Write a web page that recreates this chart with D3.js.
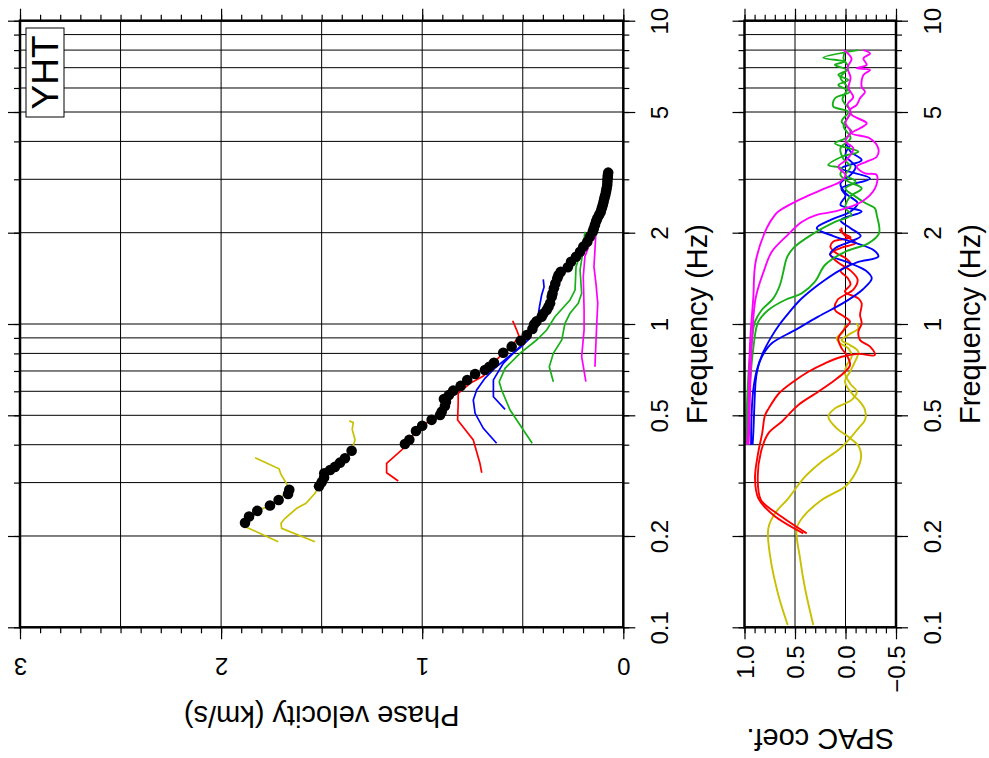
<!DOCTYPE html>
<html>
<head>
<meta charset="utf-8">
<script src="https://cdn.jsdelivr.net/npm/d3@7"></script>
<style>
  body { margin: 0; background: #fff; }
  svg { font-family: "Liberation Sans", Arial, sans-serif; }
  .tick line { stroke: #000; stroke-width: 1.2; }
</style>
</head>
<body>
<div id="main"></div>
<script>
var width = 989;
var height = 758;

// dispersion curve (black dots): frequency (Hz), phase velocity (km/s)
var dispFreq = [0.221, 0.232, 0.242, 0.252, 0.263, 0.275, 0.284,
  0.292, 0.301, 0.312, 0.322, 0.330, 0.338, 0.349, 0.361, 0.382,
  0.402, 0.415, 0.444, 0.462, 0.483, 0.501, 0.514, 0.537, 0.554, 0.566, 0.583, 0.603,
  0.625, 0.654, 0.684, 0.705, 0.723, 0.745, 0.804, 0.842, 0.881, 0.920, 0.963, 0.998,
  1.02, 1.057, 1.08, 1.112, 1.14, 1.170, 1.230, 1.26, 1.311, 1.36, 1.415, 1.45, 1.487,
  1.538, 1.605, 1.667, 1.731, 1.799, 1.868, 1.941, 2.015, 2.06, 2.121, 2.18, 2.231,
  2.29, 2.346, 2.41, 2.469, 2.53, 2.597, 2.66, 2.731, 2.80, 2.872, 2.95, 3.022, 3.09, 3.155];
var dispVel = [1.881, 1.861, 1.820, 1.757, 1.714, 1.667, 1.661,
  1.513, 1.500, 1.488, 1.487, 1.458, 1.434, 1.409, 1.384, 1.351,
  1.086, 1.064, 1.031, 1.000, 0.953, 0.911, 0.903, 0.887, 0.882, 0.892, 0.867, 0.846,
  0.809, 0.776, 0.737, 0.688, 0.666, 0.643, 0.597, 0.555, 0.510, 0.480, 0.452, 0.443,
  0.432, 0.406, 0.398, 0.381, 0.372, 0.364, 0.356, 0.352, 0.345, 0.338, 0.328, 0.322, 0.311,
  0.276, 0.260, 0.235, 0.215, 0.199, 0.179, 0.166, 0.152, 0.147, 0.141, 0.135, 0.129,
  0.120, 0.112, 0.107, 0.102, 0.098, 0.094, 0.090, 0.086, 0.083, 0.080, 0.079, 0.078, 0.077, 0.075];

// phase velocity from each SPAC curve: [frequency, velocity]
var velYellowA = [[0.362, 1.831], [0.333, 1.712], [0.319, 1.702], [0.287, 1.661], [0.262, 1.714],
  [0.252, 1.758], [0.242, 1.820], [0.233, 1.861], [0.221, 1.885], [0.2136, 1.873], [0.1915, 1.716]];
var velYellowB = [[0.480, 1.363], [0.473, 1.343], [0.449, 1.348], [0.415, 1.334], [0.382, 1.351],
  [0.361, 1.384], [0.338, 1.434], [0.322, 1.487], [0.301, 1.500], [0.292, 1.513], [0.2765, 1.533],
  [0.2563, 1.578], [0.2468, 1.624], [0.2288, 1.682], [0.2203, 1.702], [0.2120, 1.699], [0.1915, 1.533]];
var velRedA = [[0.3037, 1.119], [0.3233, 1.177], [0.3473, 1.177], [0.387, 1.097], [0.402, 1.086],
  [0.415, 1.064], [0.444, 1.031], [0.462, 1.000], [0.483, 0.953], [0.501, 0.911], [0.537, 0.887],
  [0.583, 0.867], [0.603, 0.846]];
var velRedB = [[0.3233, 0.704], [0.3473, 0.713], [0.4146, 0.746], [0.4827, 0.824], [0.5478, 0.821],
  [0.5907, 0.821], [0.6372, 0.762], [0.674, 0.696], [0.745, 0.643], [0.804, 0.597], [0.842, 0.555],
  [0.913, 0.519], [0.955, 0.530], [1.025, 0.550]];
var velBlueA = [[0.4043, 0.630], [0.4530, 0.696], [0.5077, 0.737], [0.5617, 0.746], [0.6059, 0.729],
  [0.6622, 0.688], [0.716, 0.638], [0.778, 0.573], [0.834, 0.514], [0.899, 0.464]];
var velBlueB = [[0.5233, 0.588], [0.5758, 0.646], [0.654, 0.646], [0.742, 0.597], [0.842, 0.514],
  [1.005, 0.417], [1.063, 0.424], [1.138, 0.417], [1.246, 0.406], [1.324, 0.394], [1.404, 0.398]];
var velGreenA = [[0.4043, 0.453], [0.4472, 0.497], [0.5205, 0.563], [0.6059, 0.605], [0.6453, 0.617],
  [0.7143, 0.588], [0.8007, 0.514], [0.8856, 0.431], [0.955, 0.381], [1.057, 0.340], [1.200, 0.265],
  [1.294, 0.240], [1.545, 0.235], [1.626, 0.224]];
var velGreenB = [[0.6453, 0.348], [0.7232, 0.368], [0.8007, 0.348], [0.8856, 0.306], [1.005, 0.290],
  [1.085, 0.265], [1.170, 0.224], [1.262, 0.207], [1.507, 0.215], [1.711, 0.202], [2.015, 0.191]];
var velMagentaA = [[0.6453, 0.186], [0.78, 0.207], [0.955, 0.195], [1.112, 0.195], [1.432, 0.199],
  [1.667, 0.191], [1.845, 0.166], [2.015, 0.146]];
var velMagentaB = [[0.7232, 0.141], [1.005, 0.132], [1.170, 0.127], [1.362, 0.136], [1.545, 0.146],
  [1.754, 0.141], [2.015, 0.136]];

// SPAC coefficients: [frequency, coefficient]
var spacYellowA = [[0.1018, 0.572], [0.1278, 0.665], [0.1732, 0.748], [0.212, 0.764], [0.2376, 0.698],
  [0.2663, 0.566], [0.3137, 0.401], [0.3516, 0.236], [0.3842, 0.071], [0.4199, -0.045], [0.453, -0.127],
  [0.4827, -0.193], [0.521, -0.193], [0.554, -0.144], [0.583, -0.077], [0.645, 0.005], [0.696, -0.045],
  [0.751, -0.094], [0.81, -0.127], [0.852, -0.045], [0.885, 0.038], [0.92, -0.028], [0.968, -0.127],
  [1.005, -0.111]];
var spacYellowB = [[0.1018, 0.319], [0.1345, 0.401], [0.1689, 0.450], [0.212, 0.483], [0.2316, 0.418],
  [0.2629, 0.236], [0.2908, 0.005], [0.3137, -0.077], [0.3607, -0.153], [0.394, -0.134], [0.425, -0.028],
  [0.453, 0.087], [0.495, 0.170], [0.527, 0.104], [0.562, -0.061], [0.598, -0.111], [0.637, -0.045],
  [0.688, 0.005], [0.732, -0.012], [0.78, -0.061], [0.831, -0.028], [0.864, 0.054], [0.897, 0.087],
  [0.943, 0.022], [0.992, 0.005]];
var spacRedA = [[0.204, 0.418], [0.2346, 0.715], [0.2663, 0.863], [0.310, 0.896], [0.379, 0.863],
  [0.436, 0.825], [0.5, 0.797], [0.527, 0.76], [0.59, 0.66], [0.645, 0.517], [0.696, 0.368],
  [0.742, 0.203], [0.78, 0.038], [0.797, -0.127], [0.79, -0.29], [0.842, -0.243], [0.885, -0.144],
  [0.943, -0.127], [1.005, -0.16], [1.07, -0.144], [1.17, -0.16], [1.215, -0.127], [1.278, 0.005],
  [1.35, -0.05], [1.42, -0.02], [1.5, 0.05], [1.58, -0.05], [1.65, 0.0], [1.72, 0.1], [1.8, 0.15],
  [1.87, 0.12], [1.93, -0.05], [2.0, 0.03], [2.08, 0.04]];
var spacRedB = [[0.204, 0.384], [0.2376, 0.681], [0.2629, 0.837], [0.310, 0.869], [0.379, 0.837],
  [0.436, 0.764], [0.476, 0.632], [0.5, 0.57], [0.541, 0.467], [0.598, 0.27], [0.654, 0.104],
  [0.696, 0.005], [0.732, -0.045], [0.79, -0.012], [0.831, 0.038], [0.897, 0.071], [0.968, 0.005],
  [1.018, -0.045], [1.07, 0.038], [1.112, 0.104], [1.2, 0.08], [1.3, -0.08], [1.4, -0.12],
  [1.5, -0.05], [1.6, 0.08], [1.7, 0.15], [1.78, 0.05], [1.85, -0.1], [1.95, 0.0], [2.05, 0.06]];
var spacBlueA = [[0.4, 0.92], [0.436, 0.913], [0.645, 0.89], [0.7, 0.875], [0.75, 0.85], [0.8, 0.81],
  [0.864, 0.73], [0.955, 0.5], [1.057, 0.27], [1.185, 0.0], [1.30, -0.17], [1.415, -0.26], [1.5, -0.2],
  [1.6, -0.02], [1.69, 0.153], [1.78, 0.1], [1.87, -0.05], [1.95, -0.15], [2.07, -0.05], [2.2, 0.05],
  [2.35, -0.16], [2.47, 0.05], [2.65, 0.0], [2.8, 0.04], [3.02, -0.243], [3.26, 0.04], [3.47, -0.16],
  [3.7, -0.05], [3.99, 0.0]];
var spacBlueB = [[0.4, 0.935], [0.5, 0.93], [0.6, 0.915], [0.7, 0.88], [0.8, 0.82], [0.9, 0.74],
  [1.0, 0.65], [1.1, 0.55], [1.2, 0.45], [1.3, 0.33], [1.4, 0.2], [1.5, 0.06], [1.6, -0.12],
  [1.667, -0.325], [1.75, -0.28], [1.85, -0.1], [1.95, 0.12], [2.07, 0.285], [2.2, 0.15], [2.35, -0.05],
  [2.5, -0.12], [2.7, 0.0], [2.9, 0.05], [3.1, -0.05], [3.3, -0.1], [3.6, 0.0], [3.9, -0.05]];
var spacGreenA = [[0.4, 0.99], [0.732, 0.955], [0.874, 0.929], [1.018, 0.896], [1.112, 0.83],
  [1.215, 0.715], [1.345, 0.649], [1.49, 0.615], [1.65, 0.582], [1.78, 0.517], [1.97, 0.335],
  [2.17, 0.104], [2.29, -0.06], [2.41, 0.0], [2.63, -0.045], [2.8, -0.16], [2.95, -0.028], [3.1, 0.05],
  [3.26, 0.038], [3.34, 0.17], [3.56, 0.038], [3.70, -0.127], [3.94, 0.104], [4.1, 0.0], [4.31, -0.061],
  [4.65, 0.038], [5.01, -0.028], [5.21, 0.121], [5.55, 0.104], [5.83, -0.045], [6.14, 0.071],
  [6.37, -0.028], [6.62, 0.071], [6.88, -0.012], [7.15, 0.104], [7.33, 0.005], [7.55, 0.22], [8.0, -0.127]];
var spacGreenB = [[0.4, 0.985], [0.831, 0.913], [1.018, 0.863], [1.112, 0.764], [1.2, 0.599],
  [1.262, 0.434], [1.379, 0.302], [1.565, 0.203], [1.73, 0.005], [1.845, -0.226], [1.99, -0.332],
  [2.29, -0.309], [2.41, -0.29], [2.5, -0.2], [2.63, -0.1], [2.8, 0.0], [2.95, -0.1], [3.1, 0.0],
  [3.3, -0.05], [3.5, 0.02], [3.8, 0.05], [4.1, -0.05], [4.5, 0.02], [5.0, -0.05], [5.5, 0.03],
  [6.0, -0.02], [6.5, 0.05], [7.0, -0.03], [7.5, 0.02], [8.0, 0.0]];
var spacMagentaA = [[0.4, 0.975], [0.436, 0.966], [0.85, 0.946], [1.22, 0.913], [1.60, 0.89],
  [2.07, 0.78], [2.29, 0.698], [2.35, 0.665], [2.59, 0.434], [2.80, 0.203], [2.95, 0.05], [3.1, 0.0],
  [3.3, 0.071], [3.5, -0.02], [3.8, -0.077], [4.0, 0.0], [4.3, -0.05], [4.6, 0.0], [5.0, -0.05],
  [5.3, -0.02], [5.6, -0.077], [6.0, -0.03], [6.5, -0.05], [7.0, -0.02], [7.5, -0.06], [8.0, 0.02]];
var spacMagentaB = [[0.4, 0.96], [0.436, 0.955], [0.83, 0.93], [1.215, 0.89], [1.49, 0.81],
  [1.73, 0.73], [1.97, 0.57], [2.17, 0.434], [2.29, 0.285], [2.35, 0.104], [2.53, -0.16],
  [2.80, -0.292], [3.10, -0.309], [3.14, -0.193], [3.30, -0.111], [3.43, -0.21], [3.56, -0.309],
  [3.79, -0.325], [4.09, -0.243], [4.25, -0.061], [4.42, -0.144], [4.59, -0.21], [4.89, -0.061],
  [5.08, -0.045], [5.28, -0.111], [5.55, -0.144], [5.83, -0.193], [6.06, -0.16], [6.62, -0.177],
  [6.88, -0.243], [6.97, -0.111], [7.15, -0.21], [7.51, -0.177], [7.80, -0.243], [8.0, -0.177]];

var gridFreq = [0.2, 0.3, 0.4, 0.5, 0.6, 0.7, 0.8, 0.9, 1, 2, 3, 4, 5, 6, 7, 8, 9];
var minorFreq = [0.1].concat(gridFreq, [10]);
var majorFreq = [0.1, 0.2, 0.5, 1, 2, 5, 10];
var freqLabels = ['0.1', '0.2', '0.5', '1', '2', '5', '10'];
var velTicks = d3.range(0, 31).map(function(d) { return d / 10; });
var velMajor = [0, 1, 2, 3];
var velGrid = [0.5, 1, 1.5, 2, 2.5];
var spacTicks = d3.range(-5, 11).map(function(d) { return d / 10; });
var spacMajor = [1.0, 0.5, 0.0, -0.5];
var spacLabels = ['1.0', '0.5', '0.0', '\u22120.5'];
var spacGrid = [0.5, 0.0];

var colors = {yellow: '#c8c000', red: '#ff0000', blue: '#0000ff', green: '#18b018', magenta: '#ff00ff'};

var frame = {t: 20.7, b: 627.3};
var left = {l: 20, r: 623.3};
var right = {l: 744.5, r: 896};

var svg = d3.select('#main').append('svg')
  .attr('width', width)
  .attr('height', height);

var yScale = d3.scaleLog().domain([0.1, 10]).range([frame.b, frame.t]);
var vScale = d3.scaleLinear().domain([3, 0]).range([left.l, left.r]);
var sScale = d3.scaleLinear().domain([1, -0.5]).range([right.l, right.r]);

var defs = svg.append('defs');
defs.append('clipPath').attr('id', 'clipL').append('rect')
  .attr('x', left.l).attr('y', frame.t).attr('width', left.r - left.l).attr('height', frame.b - frame.t);
defs.append('clipPath').attr('id', 'clipR').append('rect')
  .attr('x', right.l).attr('y', frame.t).attr('width', right.r - right.l).attr('height', frame.b - frame.t);

function noLabels(g) { g.selectAll('text').remove(); g.select('.domain').remove(); }

function drawPanel(xScale, box, xTicks, xMajor, xGrid, clipId) {
  var panel = svg.append('g');

  // grid
  panel.append('g').selectAll('line.hg')
    .data(gridFreq).enter().append('line')
    .attr('x1', box.l).attr('x2', box.r)
    .attr('y1', function(d) { return yScale(d); })
    .attr('y2', function(d) { return yScale(d); })
    .attr('stroke', '#000').attr('stroke-width', 1);
  panel.append('g').selectAll('line.vg')
    .data(xGrid).enter().append('line')
    .attr('x1', function(d) { return xScale(d); })
    .attr('x2', function(d) { return xScale(d); })
    .attr('y1', frame.t).attr('y2', frame.b)
    .attr('stroke', '#000').attr('stroke-width', 1);

  // ticks on all four sides
  panel.append('g').attr('transform', 'translate(0,' + frame.t + ')')
    .call(d3.axisTop(xScale).tickValues(xTicks).tickSize(6)).call(noLabels);
  panel.append('g').attr('transform', 'translate(0,' + frame.t + ')')
    .call(d3.axisTop(xScale).tickValues(xMajor).tickSize(12)).call(noLabels);
  panel.append('g').attr('transform', 'translate(0,' + frame.b + ')')
    .call(d3.axisBottom(xScale).tickValues(xTicks).tickSize(6)).call(noLabels);
  panel.append('g').attr('transform', 'translate(' + box.l + ',0)')
    .call(d3.axisLeft(yScale).tickValues(minorFreq).tickSize(6)).call(noLabels);
  panel.append('g').attr('transform', 'translate(' + box.l + ',0)')
    .call(d3.axisLeft(yScale).tickValues(majorFreq).tickSize(12)).call(noLabels);
  panel.append('g').attr('transform', 'translate(' + box.r + ',0)')
    .call(d3.axisRight(yScale).tickValues(minorFreq).tickSize(6)).call(noLabels);

  var fAxis = panel.append('g').attr('transform', 'translate(' + box.r + ',0)')
    .call(d3.axisRight(yScale).tickValues(majorFreq).tickSize(12)
      .tickFormat(function(d, i) { return freqLabels[i]; }));
  fAxis.select('.domain').remove();
  fAxis.selectAll('text')
    .attr('x', null).attr('dy', null)
    .attr('fill', '#000')
    .attr('font-size', 24)
    .attr('text-anchor', 'middle')
    .attr('transform', 'translate(44.5,0) rotate(-90)');

  panel.append('text')
    .attr('transform', 'translate(' + (box.r + 84) + ',' + ((frame.t + frame.b) / 2) + ') rotate(-90)')
    .attr('text-anchor', 'middle')
    .attr('font-size', 29)
    .text('Frequency (Hz)');

  var data = panel.append('g').attr('clip-path', 'url(#' + clipId + ')');
  return {panel: panel, data: data};
}

// ---- left panel: phase velocity
var L = drawPanel(vScale, left, velTicks, velMajor, velGrid, 'clipL');

var vAxis = L.panel.append('g').attr('transform', 'translate(0,' + frame.b + ')')
  .call(d3.axisBottom(vScale).tickValues(velMajor).tickSize(12).tickFormat(d3.format('d')));
vAxis.select('.domain').remove();
vAxis.selectAll('text')
  .attr('y', null).attr('dy', null)
  .attr('fill', '#000')
  .attr('font-size', 24)
  .attr('text-anchor', 'middle')
  .attr('transform', 'translate(0,31) rotate(180)');

L.panel.append('text')
  .attr('transform', 'translate(' + ((left.l + left.r) / 2) + ',706) rotate(180)')
  .attr('text-anchor', 'middle')
  .attr('font-size', 29)
  .text('Phase velocity (km/s)');

var velLine = d3.line()
  .x(function(d) { return vScale(d[1]); })
  .y(function(d) { return yScale(d[0]); });

var velSeries = [
  {data: velYellowA, color: colors.yellow}, {data: velYellowB, color: colors.yellow},
  {data: velRedA, color: colors.red}, {data: velRedB, color: colors.red},
  {data: velBlueA, color: colors.blue}, {data: velBlueB, color: colors.blue},
  {data: velGreenA, color: colors.green}, {data: velGreenB, color: colors.green},
  {data: velMagentaA, color: colors.magenta}, {data: velMagentaB, color: colors.magenta}
];

L.data.selectAll('path.vel')
  .data(velSeries).enter().append('path')
  .attr('class', 'vel')
  .attr('d', function(d) { return velLine(d.data); })
  .attr('fill', 'none')
  .attr('stroke', function(d) { return d.color; })
  .attr('stroke-width', 1.7);

L.data.selectAll('circle.dot')
  .data(dispFreq).enter().append('circle')
  .attr('class', 'dot')
  .attr('cx', function(d, i) { return vScale(dispVel[i]); })
  .attr('cy', function(d) { return yScale(d); })
  .attr('r', 5.3)
  .attr('fill', '#000');

L.panel.append('rect')
  .attr('x', left.l).attr('y', frame.t)
  .attr('width', left.r - left.l).attr('height', frame.b - frame.t)
  .attr('fill', 'none').attr('stroke', '#000').attr('stroke-width', 2.5);

// station label
var lab = L.panel.append('g');
lab.append('rect')
  .attr('x', 26).attr('y', 28).attr('width', 38).attr('height', 89)
  .attr('fill', '#fff').attr('stroke', '#000').attr('stroke-width', 1);
lab.append('text')
  .attr('transform', 'translate(58,72.5) rotate(-90)')
  .attr('text-anchor', 'middle')
  .attr('font-size', 37)
  .text('YHT');

// ---- right panel: SPAC coefficients
var R = drawPanel(sScale, right, spacTicks, spacMajor, spacGrid, 'clipR');

var sAxis = R.panel.append('g').attr('transform', 'translate(0,' + frame.b + ')')
  .call(d3.axisBottom(sScale).tickValues(spacMajor).tickSize(12)
    .tickFormat(function(d, i) { return spacLabels[i]; }));
sAxis.select('.domain').remove();
sAxis.selectAll('text')
  .attr('y', null).attr('dy', null)
  .attr('fill', '#000')
  .attr('font-size', 24)
  .attr('text-anchor', 'end')
  .attr('transform', 'translate(8.5,18) rotate(-90)');

R.panel.append('text')
  .attr('transform', 'translate(' + ((right.l + right.r) / 2) + ',729) rotate(180)')
  .attr('text-anchor', 'middle')
  .attr('font-size', 29)
  .text('SPAC coef.');

var spacLine = d3.line()
  .curve(d3.curveCatmullRom.alpha(0.5))
  .x(function(d) { return sScale(d[1]); })
  .y(function(d) { return yScale(d[0]); });

var spacSeries = [
  {data: spacYellowA, color: colors.yellow}, {data: spacYellowB, color: colors.yellow},
  {data: spacRedA, color: colors.red}, {data: spacRedB, color: colors.red},
  {data: spacBlueA, color: colors.blue}, {data: spacBlueB, color: colors.blue},
  {data: spacGreenA, color: colors.green}, {data: spacGreenB, color: colors.green},
  {data: spacMagentaA, color: colors.magenta}, {data: spacMagentaB, color: colors.magenta}
];

R.data.selectAll('path.spac')
  .data(spacSeries).enter().append('path')
  .attr('class', 'spac')
  .attr('d', function(d) { return spacLine(d.data); })
  .attr('fill', 'none')
  .attr('stroke', function(d) { return d.color; })
  .attr('stroke-width', 1.9);

R.panel.append('rect')
  .attr('x', right.l).attr('y', frame.t)
  .attr('width', right.r - right.l).attr('height', frame.b - frame.t)
  .attr('fill', 'none').attr('stroke', '#000').attr('stroke-width', 2.5);
</script>
</body>
</html>
